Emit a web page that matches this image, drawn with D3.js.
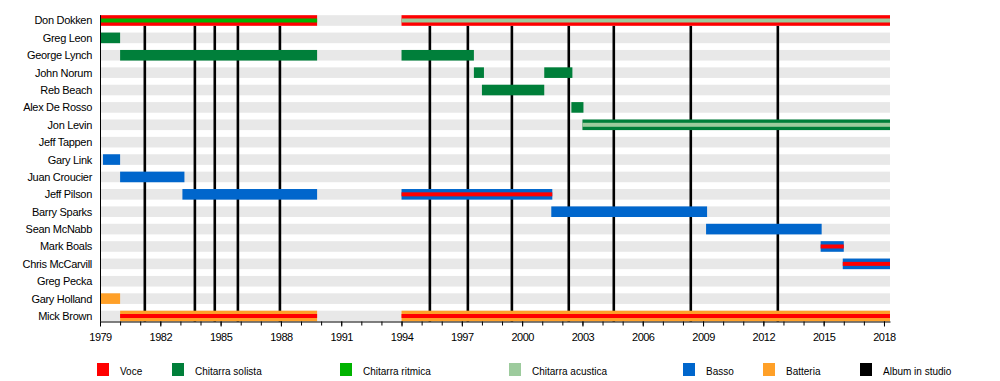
<!DOCTYPE html>
<html>
<head>
  <meta charset="utf-8">
  <title>Dokken timeline</title>
  <script src="https://d3js.org/d3.v7.min.js"></script>
  <style>
    body { margin: 0; background: #fff; }
    text { font-family: "Liberation Sans", Arial, sans-serif; fill: #000; }
  </style>
</head>
<body>
<script>
// members, top to bottom
var members = ['Don Dokken', 'Greg Leon', 'George Lynch', 'John Norum', 'Reb Beach',
  'Alex De Rosso', 'Jon Levin', 'Jeff Tappen', 'Gary Link', 'Juan Croucier',
  'Jeff Pilson', 'Barry Sparks', 'Sean McNabb', 'Mark Boals', 'Chris McCarvill',
  'Greg Pecka', 'Gary Holland', 'Mick Brown'];

// legend roles
var roles = ['Voce', 'Chitarra solista', 'Chitarra ritmica', 'Chitarra acustica',
  'Basso', 'Batteria', 'Album in studio'];

var startYear = 1979,
    endYear = 2018.3;

// [member, from, to, role, inner stripe role]
var periods = [
  ['Don Dokken', 1979, 1989.8, 'Voce', 'Chitarra ritmica'],
  ['Don Dokken', 1994, endYear, 'Voce', 'Chitarra acustica'],
  ['Greg Leon', 1979, 1980, 'Chitarra solista', null],
  ['George Lynch', 1980, 1989.8, 'Chitarra solista', null],
  ['George Lynch', 1994, 1997.6, 'Chitarra solista', null],
  ['John Norum', 1997.6, 1998.1, 'Chitarra solista', null],
  ['John Norum', 2001.1, 2002.5, 'Chitarra solista', null],
  ['Reb Beach', 1998.0, 2001.1, 'Chitarra solista', null],
  ['Alex De Rosso', 2002.45, 2003.05, 'Chitarra solista', null],
  ['Jon Levin', 2003.0, endYear, 'Chitarra solista', 'Chitarra acustica'],
  ['Gary Link', 1979.15, 1980, 'Basso', null],
  ['Juan Croucier', 1980, 1983.2, 'Basso', null],
  ['Jeff Pilson', 1983.1, 1989.8, 'Basso', null],
  ['Jeff Pilson', 1994, 2001.5, 'Basso', 'Voce'],
  ['Barry Sparks', 2001.45, 2009.2, 'Basso', null],
  ['Sean McNabb', 2009.15, 2014.9, 'Basso', null],
  ['Mark Boals', 2014.85, 2016.0, 'Basso', 'Voce'],
  ['Chris McCarvill', 2015.95, endYear, 'Basso', 'Voce'],
  ['Gary Holland', 1979, 1980, 'Batteria', null],
  ['Mick Brown', 1980, 1989.8, 'Batteria', 'Voce'],
  ['Mick Brown', 1994, endYear, 'Batteria', 'Voce']
];

// studio album releases
var albums = [1981.23, 1983.72, 1984.71, 1985.86, 1987.95, 1995.41, 1997.3,
  1999.49, 2002.32, 2004.56, 2008.39, 2012.72];

var tickYears = d3.range(1979, 2019, 3);
var minorYears = d3.range(1979, 2019, 1);

var colors = {
  'Voce': '#ff0000',
  'Chitarra solista': '#007f3a',
  'Chitarra ritmica': '#00b300',
  'Chitarra acustica': '#9dcb9d',
  'Basso': '#0066cc',
  'Batteria': '#ffa028',
  'Album in studio': '#000000'
};

var width = 1000,
    height = 381;

var svg = d3.select('body').append('svg')
  .attr('width', width)
  .attr('height', height);

var x = d3.scaleLinear().domain([startYear, endYear]).range([100, 890]);
var y = d3.scaleBand().domain(members).range([11.8, 324.7]);
var barH = 10.6, stripeH = 4;
var axisY = 321.5;

function barTop(m) { return y(m) + y.bandwidth() / 2 - barH / 2; }

// grey row backgrounds
svg.append('g').selectAll('rect')
  .data(members)
  .enter().append('rect')
  .attr('x', x(startYear))
  .attr('width', x(endYear) - x(startYear))
  .attr('y', barTop)
  .attr('height', barH)
  .attr('fill', '#e8e8e8');

// album lines (under the bars)
svg.append('g').selectAll('line')
  .data(albums)
  .enter().append('line')
  .attr('x1', x).attr('x2', x)
  .attr('y1', barTop(members[0]) + barH)
  .attr('y2', axisY)
  .attr('stroke', '#000')
  .attr('stroke-width', 2.6);

// role bars
var bars = svg.append('g');
bars.selectAll('rect.main')
  .data(periods)
  .enter().append('rect')
  .attr('class', 'main')
  .attr('x', function(d) { return x(d[1]); })
  .attr('width', function(d) { return x(d[2]) - x(d[1]); })
  .attr('y', function(d) { return barTop(d[0]); })
  .attr('height', barH)
  .attr('fill', function(d) { return colors[d[3]]; });

bars.selectAll('rect.stripe')
  .data(periods.filter(function(d) { return d[4]; }))
  .enter().append('rect')
  .attr('class', 'stripe')
  .attr('x', function(d) { return x(d[1]); })
  .attr('width', function(d) { return x(d[2]) - x(d[1]); })
  .attr('y', function(d) { return barTop(d[0]) + barH / 2 - stripeH / 2; })
  .attr('height', stripeH)
  .attr('fill', function(d) { return colors[d[4]]; });

// member names
svg.append('g').selectAll('text')
  .data(members)
  .enter().append('text')
  .attr('x', 92)
  .attr('y', function(d) { return y(d) + y.bandwidth() / 2 + 4; })
  .attr('text-anchor', 'end')
  .style('font-size', '11px')
  .style('letter-spacing', '-0.3px')
  .text(function(d) { return d; });

// left edge line
svg.append('line')
  .attr('x1', 100.5).attr('x2', 100.5)
  .attr('y1', barTop(members[0]))
  .attr('y2', axisY)
  .attr('stroke', '#000');

// minor ticks
svg.append('g')
  .attr('transform', 'translate(0,' + axisY + ')')
  .call(d3.axisBottom(x).tickValues(minorYears).tickSize(4).tickFormat(''))
  .call(function(g) { g.select('.domain').remove(); });

// major axis
var axis = svg.append('g')
  .attr('transform', 'translate(0,' + axisY + ')')
  .call(d3.axisBottom(x).tickValues(tickYears).tickFormat(d3.format('d'))
    .tickSize(5).tickSizeOuter(0).tickPadding(7));
axis.selectAll('text')
  .style('font-family', '"Liberation Sans", Arial, sans-serif')
  .style('font-size', '11px')
  .style('letter-spacing', '-0.5px');

// legend
var legendX = [97, 172, 340, 509, 683, 763, 860];
var legend = svg.append('g').selectAll('g')
  .data(roles)
  .enter().append('g')
  .attr('transform', function(d, i) { return 'translate(' + legendX[i] + ',363)'; });
legend.append('rect')
  .attr('width', 12).attr('height', 13)
  .attr('fill', function(d) { return colors[d]; });
legend.append('text')
  .attr('x', 23)
  .attr('y', 11.5)
  .style('font-size', '10px')
  .text(function(d) { return d; });
</script>
</body>
</html>
